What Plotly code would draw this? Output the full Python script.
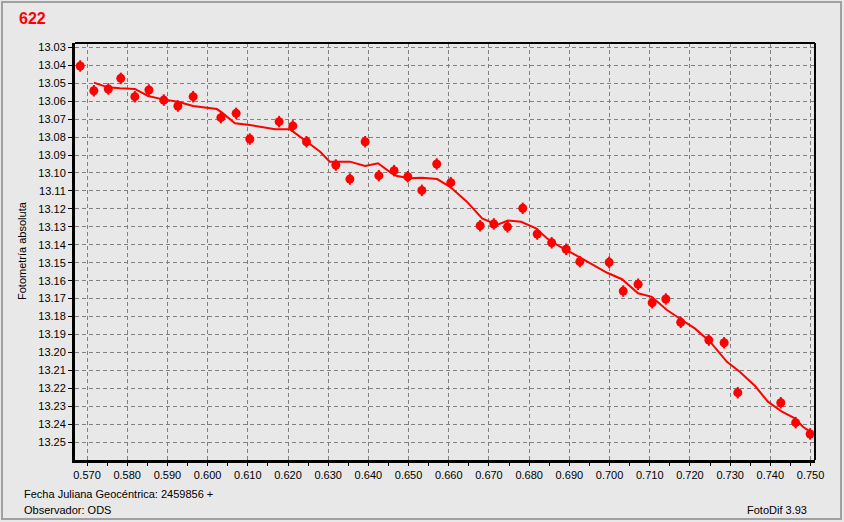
import plotly.graph_objects as go

# Observed points (JD fraction, absolute magnitude)
obs_x = [0.5683, 0.5717, 0.5753, 0.5784, 0.5819, 0.5854, 0.5891, 0.5926, 0.5964,
         0.6033, 0.6071, 0.6105, 0.6178, 0.6212, 0.6246, 0.6319, 0.6354, 0.6392,
         0.6426, 0.6464, 0.6498, 0.6533, 0.6570, 0.6605, 0.6678, 0.6712, 0.6746,
         0.6784, 0.6820, 0.6856, 0.6892, 0.6926, 0.6999, 0.7034, 0.7071, 0.7106,
         0.7140, 0.7177, 0.7247, 0.7285, 0.7319, 0.7426, 0.7463, 0.7499]
obs_y = [13.0404, 13.0542, 13.0532, 13.0473, 13.0575, 13.0538, 13.0594, 13.0627, 13.0575,
         13.0692, 13.0668, 13.0811, 13.0714, 13.0738, 13.0826, 13.0956, 13.1034, 13.0826,
         13.1015, 13.0987, 13.1021, 13.1097, 13.0950, 13.1054, 13.1294, 13.1284, 13.1300,
         13.1197, 13.1340, 13.1389, 13.1425, 13.1494, 13.1498, 13.1658, 13.1620, 13.1723,
         13.1702, 13.1832, 13.1931, 13.1946, 13.2224, 13.2280, 13.2391, 13.2454]
obs_err = [0.0032] * len(obs_x)

# Smoothed curve
fit_x = [0.5717, 0.5752, 0.5782, 0.5819, 0.5852, 0.5889, 0.5926, 0.5964, 0.6023, 0.6036,
         0.6068, 0.6105, 0.6168, 0.6205, 0.6247, 0.6280, 0.6304, 0.6354, 0.6392, 0.6424,
         0.6458, 0.6471, 0.6503, 0.6533, 0.6571, 0.6603, 0.6645, 0.6683, 0.6720, 0.6747,
         0.6780, 0.6817, 0.6844, 0.6877, 0.6926, 0.6959, 0.6994, 0.7031, 0.7071, 0.7105,
         0.7142, 0.7180, 0.7212, 0.7250, 0.7292, 0.7324, 0.7362, 0.7394, 0.7429, 0.7461,
         0.7481, 0.7499]
fit_y = [13.0497, 13.0523, 13.0528, 13.0532, 13.0571, 13.0590, 13.0603, 13.0627, 13.0644, 13.0664,
         13.0723, 13.0733, 13.0757, 13.0757, 13.0826, 13.0882, 13.0937, 13.0937, 13.0961, 13.0946,
         13.1002, 13.1017, 13.1030, 13.1026, 13.1034, 13.1077, 13.1160, 13.1253, 13.1290, 13.1265,
         13.1272, 13.1308, 13.1364, 13.1411, 13.1470, 13.1513, 13.1556, 13.1592, 13.1670, 13.1690,
         13.1762, 13.1819, 13.1866, 13.1940, 13.2052, 13.2107, 13.2187, 13.2274, 13.2330, 13.2367,
         13.2414, 13.2441]

x_ticks = [0.570, 0.580, 0.590, 0.600, 0.610, 0.620, 0.630, 0.640, 0.650, 0.660,
           0.670, 0.680, 0.690, 0.700, 0.710, 0.720, 0.730, 0.740, 0.750]
x_ticklabels = ["%.3f" % v for v in x_ticks]
y_ticks = [round(13.03 + 0.01 * i, 2) for i in range(23)]
y_ticklabels = ["%.2f" % v for v in y_ticks]

title_text = "622"
y_title = "Fotometría absoluta"
x_note = "Fecha Juliana Geocéntrica: 2459856 +"
observer = "Observador: ODS"
software = "FotoDif 3.93"

RED = "#FF0000"
BG = "#E8E8E8"
FONT = "Liberation Sans"

W, H = 844, 522
L, R, T, B = 75, 815, 43, 460


def px(xp):
    return (xp - L) / (R - L)


def py(yp):
    return (B - yp) / (B - T)


fig = go.Figure()
fig.add_trace(go.Scatter(
    x=fit_x, y=fit_y, mode="lines",
    line=dict(color=RED, width=2), hoverinfo="skip", showlegend=False))
fig.add_trace(go.Scatter(
    x=obs_x, y=obs_y, mode="markers",
    marker=dict(color=RED, size=9, symbol="circle", line=dict(width=0)),
    error_y=dict(type="data", array=obs_err, color=RED, thickness=2, width=0),
    showlegend=False))

grid = dict(showgrid=True, gridcolor="#808080", gridwidth=1, griddash="4px,3px")

fig.update_xaxes(
    range=[0.56701, 0.75111], tickmode="array", tickvals=x_ticks, ticktext=x_ticklabels,
    ticks="outside", ticklen=3, tickwidth=1, tickcolor="black",
    minor=dict(tickvals=[round(0.565 + 0.005 * i, 3) for i in range(38)],
               ticks="outside", ticklen=3, tickcolor="black", showgrid=False),
    showline=True, linecolor="black", linewidth=3, mirror=False, zeroline=False,
    tickfont=dict(family=FONT, size=11, color="black"), **grid)
fig.update_yaxes(
    range=[13.2599, 13.0276], tickmode="array", tickvals=y_ticks, ticktext=y_ticklabels,
    ticks="outside", ticklen=4, tickwidth=1, tickcolor="black",
    showline=True, linecolor="black", linewidth=3, mirror=False, zeroline=False,
    tickfont=dict(family=FONT, size=11, color="black"), **grid)

shapes = [
    dict(type="rect", xref="paper", yref="paper", x0=px(2), x1=px(841), y0=py(519), y1=py(2),
         line=dict(color="#A0A0A0", width=2), layer="below"),
    dict(type="line", xref="paper", yref="paper", x0=0, x1=1, y0=1, y1=1,
         line=dict(color="black", width=2)),
    dict(type="line", xref="paper", yref="paper", x0=1, x1=1, y0=0, y1=1,
         line=dict(color="black", width=2)),
]

annotations = [
    dict(text="<b>%s</b>" % title_text, xref="paper", yref="paper", x=px(17), y=py(19),
         xanchor="left", yanchor="middle", showarrow=False,
         font=dict(family=FONT, size=16, color=RED)),
    dict(text=y_title, xref="paper", yref="paper", x=px(22), y=py(251),
         xanchor="center", yanchor="middle", textangle=-90, showarrow=False,
         font=dict(family=FONT, size=11, color="black")),
    dict(text=x_note, xref="paper", yref="paper", x=px(22), y=py(494),
         xanchor="left", yanchor="middle", showarrow=False,
         font=dict(family=FONT, size=11, color="black")),
    dict(text=observer, xref="paper", yref="paper", x=px(22), y=py(510),
         xanchor="left", yanchor="middle", showarrow=False,
         font=dict(family=FONT, size=11, color="black")),
    dict(text=software, xref="paper", yref="paper", x=px(809), y=py(510),
         xanchor="right", yanchor="middle", showarrow=False,
         font=dict(family=FONT, size=11, color="black")),
]

fig.update_layout(
    width=W, height=H, autosize=False,
    margin=dict(l=L, r=W - R, t=T, b=H - B, pad=0),
    paper_bgcolor=BG, plot_bgcolor=BG,
    shapes=shapes, annotations=annotations,
    font=dict(family=FONT, size=11, color="black"),
)

fig.write_html(
    "out.html",
    config={"displayModeBar": False},
    post_script="document.body.style.margin='0';document.body.style.padding='0';"
                "document.body.style.overflow='hidden';"
                "document.body.style.background='%s';" % BG,
)
